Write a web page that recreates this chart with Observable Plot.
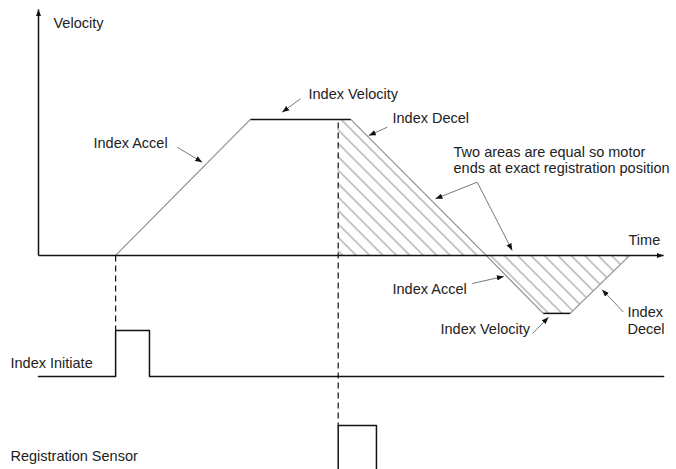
<!DOCTYPE html>
<html>
<head>
<meta charset="utf-8">
<script src="https://cdn.jsdelivr.net/npm/d3@7"></script>
<script src="https://cdn.jsdelivr.net/npm/@observablehq/plot@0.6"></script>
<style>
  html, body { margin: 0; padding: 0; background: #fff; }
  #chart { width: 676px; height: 469px; }
</style>
</head>
<body>
<div id="chart"></div>
<script>
// ---- Velocity profile (time in arbitrary units 0..100, velocity in % of index velocity) ----
const profileTime     = [12.3, 33.8, 49.8, 71.4, 80.5, 84.8, 94.3];
const profileVelocity = [0, 100, 100, 0, -42.6, -42.6, 0];

// hatched (equal) areas between the curve and zero, from the registration point on
const hatchTime     = [47.8, 49.8, 71.4, 80.5, 84.8, 94.3];
const hatchVelocity = [100, 100, 0, -42.6, -42.6, 0];

// axes extents
const axisTimeEnd = 99.7;
const axisVelocityTop = 180.9;

// Index Initiate signal trace
const initiateTime  = [0, 12.3, 12.3, 17.7, 17.7, 99.7];
const initiateLevel = [-89, -89, -55.1, -55.1, -89, -89];

// Registration Sensor signal trace
const sensorTime  = [47.8, 47.8, 53.9, 53.9];
const sensorLevel = [-157.4, -125, -125, -157.4];

// dashed timing guides
const guideTime   = [12.3, 47.8];
const guideTop    = [0, 97.8];
const guideBottom = [-55.1, -125];

// text labels
const labelText = ["Velocity", "Time", "Index Accel", "Index Velocity", "Index Decel",
  "Two areas are equal so motor\nends at exact registration position",
  "Index Accel", "Index Velocity", "Index\nDecel", "Index Initiate", "Registration Sensor"];
const labelTime     = [2.39, 94.1, 8.77, 43.06, 56.46, 66.19, 56.46, 64.11, 93.94, -4.47, -4.47];
const labelVelocity = [167.6, 7.4, 78.7, 115.4, 97.1, 60.3, -28.7, -57.4, -57.4, -83.1, -151.5];

// annotation arrows
const arrowFromTime     = [22.12, 41.79, 55.61, 69.97, 69.97, 69.2, 78.79, 93.30];
const arrowFromVelocity = [79.6, 115.2, 94.3, 53.9, 53.9, -20.6, -57.4, -41.7];
const arrowToTime       = [26.11, 38.87, 52.68, 63.32, 75.55, 74.21, 81.34, 89.90];
const arrowToVelocity   = [68.6, 105.4, 88.2, 41.7, 3.7, -15.4, -45.4, -25.2];

// ---- build tables ----
const profile = profileTime.map((t, i) => ({t, v: profileVelocity[i]}));
const segments = profile.slice(1).map((p, i) => ({
  t1: profile[i].t, v1: profile[i].v, t2: p.t, v2: p.v,
  flat: profile[i].v === p.v
}));
const hatch = hatchTime.map((t, i) => ({t, v: hatchVelocity[i]}));
const initiate = initiateTime.map((t, i) => ({t, v: initiateLevel[i]}));
const sensor = sensorTime.map((t, i) => ({t, v: sensorLevel[i]}));
const guides = guideTime.map((t, i) => ({t, top: guideTop[i], bottom: guideBottom[i]}));
const labels = labelText.map((text, i) => ({text, t: labelTime[i], v: labelVelocity[i]}));
const arrows = arrowFromTime.map((t, i) => ({
  t1: t, v1: arrowFromVelocity[i], t2: arrowToTime[i], v2: arrowToVelocity[i]
}));
const axes = [
  {t1: 0, v1: 0, t2: 0, v2: axisVelocityTop},
  {t1: 0, v1: 0, t2: axisTimeEnd, v2: 0}
];

const ink = "#111";
const grey = "#8a8a8a";

const plot = Plot.plot({
  width: 676,
  height: 469,
  marginLeft: 38,
  marginRight: 11,
  marginTop: 0,
  marginBottom: 0,
  x: {domain: [0, 100], axis: null},
  y: {domain: [-157.4, 187.5], axis: null},
  style: {
    fontFamily: "'Liberation Sans', Arial, sans-serif",
    fontSize: "14.5px",
    background: "#fff",
    color: ink
  },
  marks: [
    Plot.areaY(hatch, {x: "t", y1: 0, y2: "v", fill: "url(#hatch)", stroke: "none"}),
    Plot.link(segments.filter(d => !d.flat), {x1: "t1", y1: "v1", x2: "t2", y2: "v2", stroke: grey, strokeWidth: 1.1}),
    Plot.link(segments.filter(d => d.flat), {x1: "t1", y1: "v1", x2: "t2", y2: "v2", stroke: ink, strokeWidth: 1.5}),
    Plot.link(axes, {x1: "t1", y1: "v1", x2: "t2", y2: "v2", stroke: ink, strokeWidth: 1.5, markerEnd: "arrow"}),
    Plot.link(guides, {x1: "t", y1: "top", x2: "t", y2: "bottom", stroke: ink, strokeWidth: 1.2, strokeDasharray: "6,4"}),
    Plot.line(initiate, {x: "t", y: "v", stroke: ink, strokeWidth: 1.5}),
    Plot.line(sensor, {x: "t", y: "v", stroke: ink, strokeWidth: 1.5}),
    Plot.link(arrows, {x1: "t1", y1: "v1", x2: "t2", y2: "v2", stroke: "#555", strokeWidth: 0.8, markerEnd: "arrow"}),
    Plot.text(labels, {x: "t", y: "v", text: "text", textAnchor: "start", lineAnchor: "bottom", lineHeight: 1.12, fill: "#222"})
  ]
});

// filled arrowheads
plot.querySelectorAll("marker").forEach(m => {
  m.setAttribute("viewBox", "-7 -3 7 6");
  m.setAttribute("markerWidth", "7");
  m.setAttribute("markerHeight", "6");
  m.setAttribute("markerUnits", "userSpaceOnUse");
  m.setAttribute("refX", "0");
  m.setAttribute("refY", "0");
  m.setAttribute("orient", "auto");
  m.setAttribute("fill", ink);
  m.setAttribute("stroke", "none");
  while (m.firstChild) m.removeChild(m.firstChild);
  const p = document.createElementNS("http://www.w3.org/2000/svg", "path");
  p.setAttribute("d", "M-7,-2.7L0,0L-7,2.7Z");
  m.appendChild(p);
});

// hatch pattern definition
const NS = "http://www.w3.org/2000/svg";
const defs = document.createElementNS(NS, "defs");
const pat = document.createElementNS(NS, "pattern");
pat.setAttribute("id", "hatch");
pat.setAttribute("patternUnits", "userSpaceOnUse");
pat.setAttribute("width", "9.5");
pat.setAttribute("height", "20");
pat.setAttribute("patternTransform", "rotate(-45)");
const hl = document.createElementNS(NS, "line");
hl.setAttribute("x1", "4.75"); hl.setAttribute("y1", "-5");
hl.setAttribute("x2", "4.75"); hl.setAttribute("y2", "25");
hl.setAttribute("stroke", "#8e8e8e");
hl.setAttribute("stroke-width", "1");
pat.appendChild(hl);
defs.appendChild(pat);
plot.insertBefore(defs, plot.firstChild);

document.getElementById("chart").appendChild(plot);
</script>
</body>
</html>
